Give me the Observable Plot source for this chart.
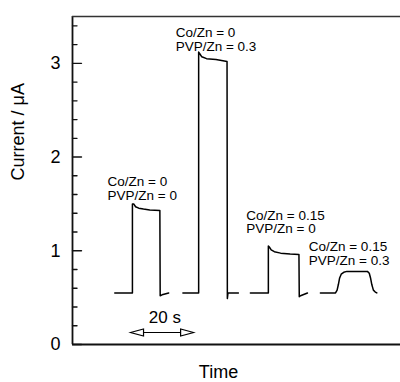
<!DOCTYPE html>
<html>
<head>
<meta charset="utf-8">
<script src="https://cdn.jsdelivr.net/npm/d3@7"></script>
<script src="https://cdn.jsdelivr.net/npm/@observablehq/plot@0.6"></script>
<style>
  body { margin: 0; background: #fff; }
</style>
</head>
<body>
<div id="chart"></div>
<script>
// Photocurrent transients, [time (s), current (µA)], one array per film
const traceCo0Pvp0 = [
  [13.4, 0.55], [19.0, 0.55], [19.0, 1.50], [19.4, 1.50], [20.0, 1.47], [21.0, 1.455],
  [22.5, 1.445], [24.5, 1.435], [27.7, 1.43], [27.8, 0.52], [28.4, 0.53], [30.5, 0.55]
];
const traceCo0Pvp03 = [
  [35.0, 0.55], [40.0, 0.55], [40.0, 3.12], [40.4, 3.10], [41.0, 3.07], [42.5, 3.05],
  [45.5, 3.04], [49.0, 3.02], [49.1, 0.49], [49.3, 0.55], [52.6, 0.55]
];
const traceCo015Pvp0 = [
  [56.4, 0.55], [62.1, 0.55], [62.1, 1.05], [62.4, 1.04], [63.0, 1.01], [64.0, 0.99],
  [66.0, 0.975], [69.0, 0.965], [71.8, 0.96], [71.9, 0.51], [72.3, 0.52], [74.5, 0.55]
];
const traceCo015Pvp03 = [
  [78.6, 0.55], [83.4, 0.55], [83.9, 0.58], [84.3, 0.64], [84.7, 0.71], [85.2, 0.75],
  [86.0, 0.77], [87.0, 0.78], [93.5, 0.78], [94.1, 0.76], [94.5, 0.71], [94.9, 0.64],
  [95.4, 0.58], [96.0, 0.56], [96.5, 0.55]
];
const traces = [traceCo0Pvp0, traceCo0Pvp03, traceCo015Pvp0, traceCo015Pvp03];

// Composition labels, anchored at their left edge / last baseline
const labels = [
  {t: 11.1, i: 1.546, text: "Co/Zn = 0\nPVP/Zn = 0"},
  {t: 32.7, i: 3.134, text: "Co/Zn = 0\nPVP/Zn = 0.3"},
  {t: 55.1, i: 1.187, text: "Co/Zn = 0.15\nPVP/Zn = 0"},
  {t: 74.9, i: 0.853, text: "Co/Zn = 0.15\nPVP/Zn = 0.3"}
];

// Time scale bar
const scaleBar = [{from: 18.4, to: 38.4, level: 0.128, mid: 29.3, text: "20 s"}];

const yMajor = [0, 1, 2, 3];
const yMinor = [0.2, 0.4, 0.6, 0.8, 1.2, 1.4, 1.6, 1.8, 2.2, 2.4, 2.6, 2.8, 3.2, 3.4];
const yTitle = "Current / μA";
const xTitle = "Time";
const xTitleAt = 46.3;

const rows = traces.flatMap((pts, k) => pts.map(([t, i]) => ({trace: k, t, i})));

// Straight tick stroke for inward-pointing vectors
const tickShape = {draw(ctx, l) { ctx.moveTo(0, 0); ctx.lineTo(0, -l); }};

// Hollow, elongated arrowheads with the tip at the origin
const headLeft = {draw(ctx) { ctx.moveTo(0, 0); ctx.lineTo(13, -3.5); ctx.lineTo(13, 3.5); ctx.closePath(); }};
const headRight = {draw(ctx) { ctx.moveTo(0, 0); ctx.lineTo(-13, -3.5); ctx.lineTo(-13, 3.5); ctx.closePath(); }};

const chart = Plot.plot({
  width: 400,
  height: 382,
  marginLeft: 72,
  marginRight: 0,
  marginTop: 16,
  marginBottom: 38,
  style: {fontFamily: "'Liberation Sans', Arial, Helvetica, sans-serif", background: "#fff", color: "#000"},
  x: {domain: [0, 104], axis: null},
  y: {domain: [0, 3.5], label: null},
  marks: [
    Plot.vector(yMinor, {x: () => 0, y: d => d, length: 4.5, rotate: 90, anchor: "start", shape: tickShape, stroke: "#111", strokeWidth: 1.4}),
    Plot.vector(yMajor, {x: () => 0, y: d => d, length: 9, rotate: 90, anchor: "start", shape: tickShape, stroke: "#111", strokeWidth: 1.4}),
    Plot.axisY(yMajor, {tickSize: 0, tickPadding: 12, fontSize: 18, tickFormat: d => String(d), label: null}),
    Plot.ruleX([0], {strokeWidth: 1.8, stroke: "#111"}),
    Plot.ruleY([0], {strokeWidth: 1.8, stroke: "#111"}),
    Plot.ruleY([3.5], {strokeWidth: 1.5, stroke: "#333"}),
    Plot.line(rows, {x: "t", y: "i", z: "trace", stroke: "#000", strokeWidth: 1.5}),
    Plot.text(labels, {x: "t", y: "i", text: "text", textAnchor: "start", lineAnchor: "bottom", lineHeight: 1.0, fontSize: 13.5, fill: "#000"}),
    Plot.link(scaleBar, {x1: "from", x2: "to", y1: "level", y2: "level", stroke: "#000", strokeWidth: 1.2}),
    Plot.dot(scaleBar, {x: "from", y: "level", symbol: headLeft, fill: "#fff", stroke: "#000", strokeWidth: 1.2}),
    Plot.dot(scaleBar, {x: "to", y: "level", symbol: headRight, fill: "#fff", stroke: "#000", strokeWidth: 1.2}),
    Plot.text(scaleBar, {x: "mid", y: "level", text: "text", dy: -10, lineAnchor: "bottom", fontSize: 17, fill: "#000"}),
    Plot.text([yTitle], {frameAnchor: "left", rotate: -90, dx: -54, fontSize: 18, fill: "#000"}),
    Plot.text([xTitle], {x: () => xTitleAt, frameAnchor: "bottom", dy: 33, lineAnchor: "bottom", fontSize: 18, fill: "#000"})
  ]
});

document.getElementById("chart").appendChild(chart);
</script>
</body>
</html>
